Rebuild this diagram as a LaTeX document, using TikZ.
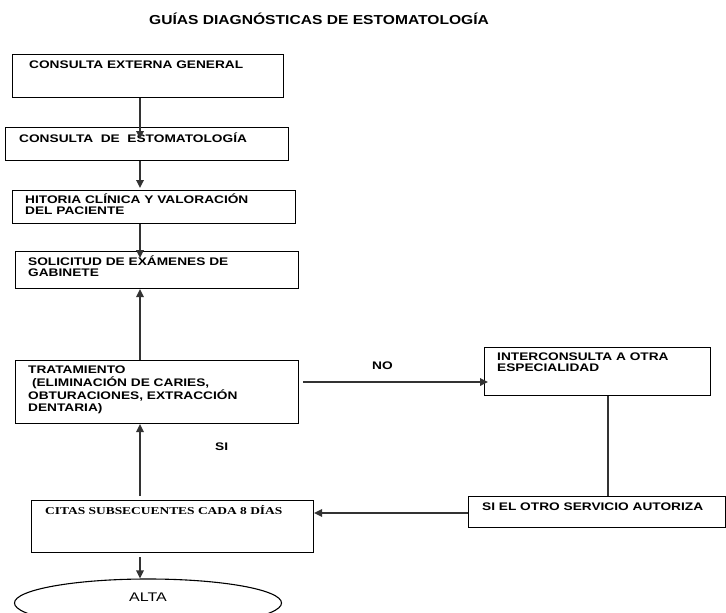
\documentclass[tikz,border=0pt]{standalone}
\usepackage{fontspec}
\setmainfont{Liberation Sans}
\newfontfamily\tnr{Liberation Serif}
\usetikzlibrary{arrows.meta,shapes.geometric}
\newcommand\sx[1]{\scalebox{1.245}[1]{#1}}
\newcommand\sxs[1]{\scalebox{1.28}[1]{#1}}
\newcommand\ml[1]{\sx{\begin{tabular}[t]{@{}l@{}}#1\end{tabular}}}
\tikzset{
  box/.style={draw=black, line width=1.1pt, rectangle, inner sep=0pt, anchor=north west},
  conn/.style={draw=black!80, line width=1.7pt},
  arr/.style={conn, -{Triangle[length=8pt,width=7.5pt]}},
  txt/.style={inner sep=0pt, anchor=base west, font=\fontsize{11}{11.2}\selectfont\bfseries},
  lbl/.style={inner sep=0pt, anchor=base west, font=\fontsize{11}{11.2}\selectfont\bfseries},
}
\begin{document}
\begin{tikzpicture}[x=1pt,y=-1pt]
\useasboundingbox (0,0) rectangle (726,613);
\clip (0,0) rectangle (726,613);
\coordinate (m) at (140,0);
% title
\node[inner sep=0pt, anchor=base, font=\fontsize{13}{14}\selectfont\bfseries] (title) at (319,24) {\scalebox{1.2}[1]{GUÍAS DIAGNÓSTICAS DE ESTOMATOLOGÍA}};
% boxes
\node[box, minimum width=271pt, minimum height=43pt] (b1) at (12,54) {};
\node[box, minimum width=283pt, minimum height=33pt] (b2) at (5,127) {};
\node[box, minimum width=283pt, minimum height=33pt] (b3) at (12,190) {};
\node[box, minimum width=283pt, minimum height=37pt] (b4) at (15,251) {};
\node[box, minimum width=283pt, minimum height=63pt] (b5) at (15,360) {};
\node[box, minimum width=226pt, minimum height=48pt] (b6) at (484,347) {};
\node[box, minimum width=257pt, minimum height=31pt] (b7) at (468,496) {};
\node[box, minimum width=282pt, minimum height=52pt] (b8) at (31,500) {};
\node[draw=black, line width=1.1pt, ellipse, minimum width=267pt, minimum height=48pt, inner sep=0pt] (alta) at (148,603) {};
% texts
\node[txt] (t1) at (29,68) {\sx{CONSULTA EXTERNA GENERAL}};
\node[txt] (t2) at (19,142.5) {\sx{CONSULTA\ \ DE\ \ ESTOMATOLOGÍA}};
\node[txt] (t3) at (25,203.5) {\ml{HITORIA CLÍNICA Y VALORACIÓN\\DEL PACIENTE}};
\node[txt] (t4) at (28,265) {\ml{SOLICITUD DE EXÁMENES DE\\GABINETE}};
\node[txt] (t5) at (28,373.5) {\ml{TRATAMIENTO\\\ (ELIMINACIÓN DE CARIES,\\OBTURACIONES, EXTRACCIÓN\\DENTARIA)}};
\node[txt, font=\fontsize{11}{10.2}\selectfont\bfseries] (t6) at (497,360.5) {\ml{INTERCONSULTA A OTRA\\ESPECIALIDAD}};
\node[txt] (t7) at (482,510) {\sx{SI EL OTRO SERVICIO AUTORIZA}};
\node[txt, font=\fontsize{10.5}{11.2}\selectfont\tnr\bfseries] (t8) at (45,514) {\sxs{CITAS SUBSECUENTES CADA 8 DÍAS}};
\node[inner sep=0pt, font=\fontsize{12.5}{14}\selectfont] (altat) at (148,597) {\sxs{ALTA}};
\node[lbl] (no) at (372,369) {\sx{NO}};
\node[lbl] (si) at (215,450) {\sx{SI}};
% connectors
\draw[arr] (b1.south -| m) -- ([yshift=-12pt]b2.north -| m);
\draw[arr, shorten >=2pt] (b2.south -| m) -- (b3.north -| m);
\draw[arr] (b3.south -| m) -- ([yshift=-7pt]b4.north -| m);
\draw[arr] (b5.north -| m) -- (b4.south -| m);
\draw[arr, shorten <=4pt] (b8.north -| m) -- (b5.south -| m);
\draw[arr, shorten <=4pt] (b5.east |- 0,382) -- ([xshift=4pt]b6.west |- 0,382);
\draw[conn, line width=1.3pt] (b6.south -| 608,0) -- (b7.north -| 608,0);
\draw[arr] (b7.west |- 0,513) -- (b8.east |- 0,513);
\draw[arr, shorten <=4pt] (b8.south -| m) -- (alta.north -| m);
\end{tikzpicture}
\end{document}
